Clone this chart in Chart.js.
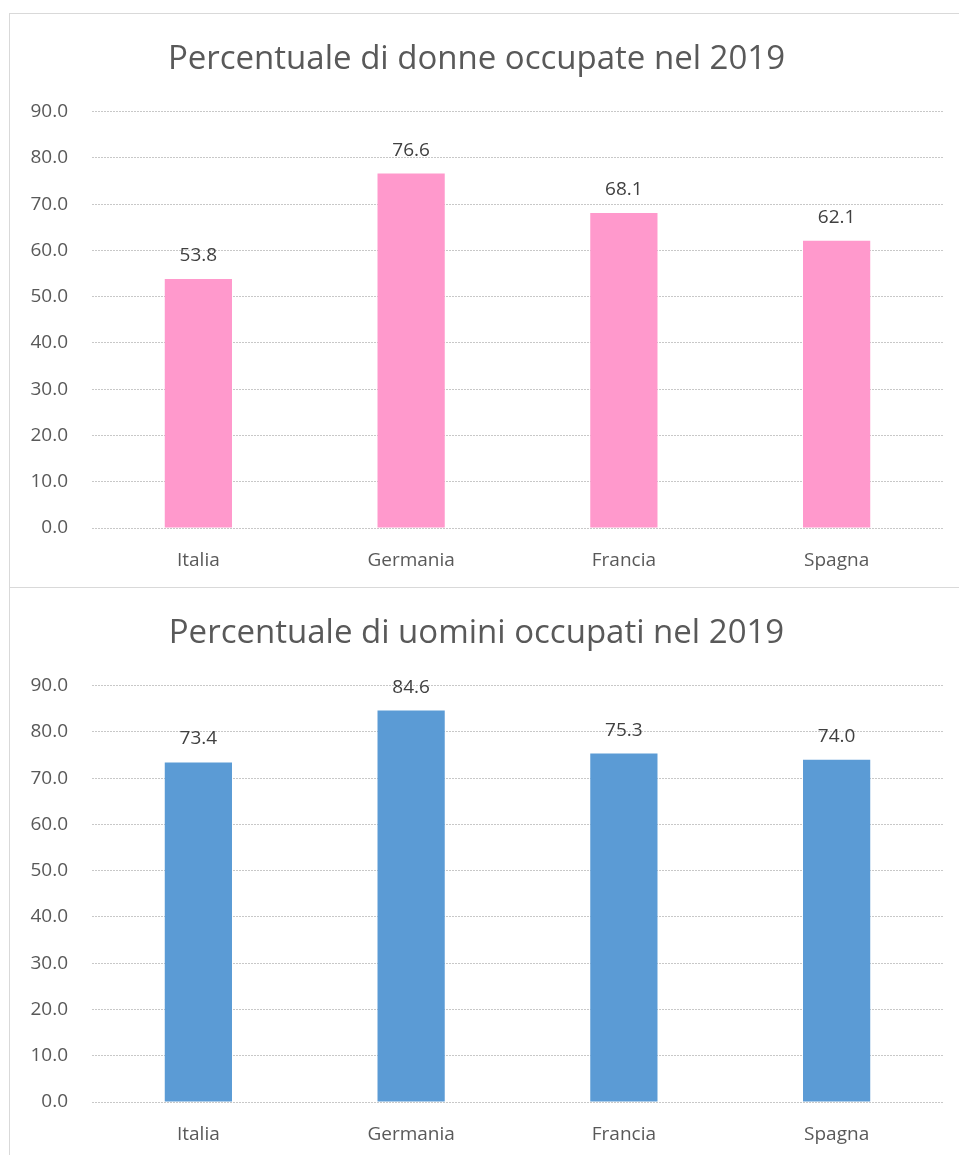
<!DOCTYPE html>
<html lang="it">
<head>
    <meta charset="UTF-8">
    <title>Percentuale di occupati nel 2019</title>
    <style>
        body {
            margin: 0;
            background-color: #ffffff;
            width: 959px;
            height: 1155px;
            overflow: hidden;
            position: relative;
        }
        .riquadro {
            position: absolute;
            left: 9px;
            width: 950px;
            border-top: 1px solid #d9d9d9;
            border-left: 1px solid #d9d9d9;
        }
        #boxDonne { top: 13px; height: 574px; }
        #boxUomini { top: 587px; height: 568px; }
    </style>
    <script src="https://cdn.jsdelivr.net/npm/chart.js"></script>
</head>
<body>
    <div class="riquadro" id="boxDonne"><canvas id="graficoDonne" width="949" height="574"></canvas></div>
    <div class="riquadro" id="boxUomini"><canvas id="graficoUomini" width="949" height="567"></canvas></div>
    <script>
        // dati
        const paesi = ['Italia', 'Germania', 'Francia', 'Spagna'];
        const donne = [53.8, 76.6, 68.1, 62.1];
        const uomini = [73.4, 84.6, 75.3, 74.0];
        const tickAsseY = [0, 10, 20, 30, 40, 50, 60, 70, 80, 90];

        const FONT = "'Open Sans', 'DejaVu Sans', sans-serif";
        const GRIGIO = '#595959';

        // etichette sopra le barre
        const etichette = {
            id: 'etichette',
            afterDatasetsDraw(chart) {
                const ctx = chart.ctx;
                const meta = chart.getDatasetMeta(0);
                ctx.save();
                ctx.font = '19px ' + FONT;
                ctx.fillStyle = '#404040';
                ctx.textAlign = 'center';
                ctx.textBaseline = 'alphabetic';
                meta.data.forEach((bar, i) => {
                    const v = chart.data.datasets[0].data[i];
                    ctx.fillText(v.toFixed(1), bar.x, bar.y - 18);
                });
                ctx.restore();
            }
        };

        function creaGrafico(id, titolo, valori, colore, altezzaX) {
            new Chart(document.getElementById(id), {
                type: 'bar',
                data: {
                    labels: paesi,
                    datasets: [{
                        data: valori,
                        backgroundColor: colore,
                        barPercentage: 0.316,
                        categoryPercentage: 1.0
                    }]
                },
                options: {
                    responsive: false,
                    animation: false,
                    layout: { padding: { left: 0, right: 16, top: 0, bottom: 0 } },
                    plugins: {
                        legend: { display: false },
                        tooltip: { enabled: false },
                        title: {
                            display: true,
                            text: titolo,
                            color: GRIGIO,
                            font: { family: FONT, size: 33, weight: 'normal', lineHeight: 1.2 },
                            padding: { top: 26, bottom: 32 }
                        }
                    },
                    scales: {
                        x: {
                            grid: { display: false },
                            border: { display: false },
                            ticks: { color: GRIGIO, font: { family: FONT, size: 19 }, padding: 13 },
                            afterFit(scale) { scale.height = altezzaX; }
                        },
                        y: {
                            min: 0,
                            max: 90,
                            afterBuildTicks(scale) { scale.ticks = tickAsseY.map(v => ({ value: v })); },
                            grid: { color: '#c8c8c8', lineWidth: 1, drawTicks: false },
                            border: { display: false, dash: [2, 1] },
                            ticks: {
                                color: GRIGIO,
                                font: { family: FONT, size: 19 },
                                padding: 24,
                                callback: v => v.toFixed(1)
                            },
                            afterFit(scale) { scale.width = 82; }
                        }
                    }
                },
                plugins: [etichette]
            });
        }

        creaGrafico('graficoDonne', 'Percentuale di donne occupate nel 2019', donne, '#ff99cc', 60);
        creaGrafico('graficoUomini', 'Percentuale di uomini occupati nel 2019', uomini, '#5b9bd5', 53);
    </script>
</body>
</html>
